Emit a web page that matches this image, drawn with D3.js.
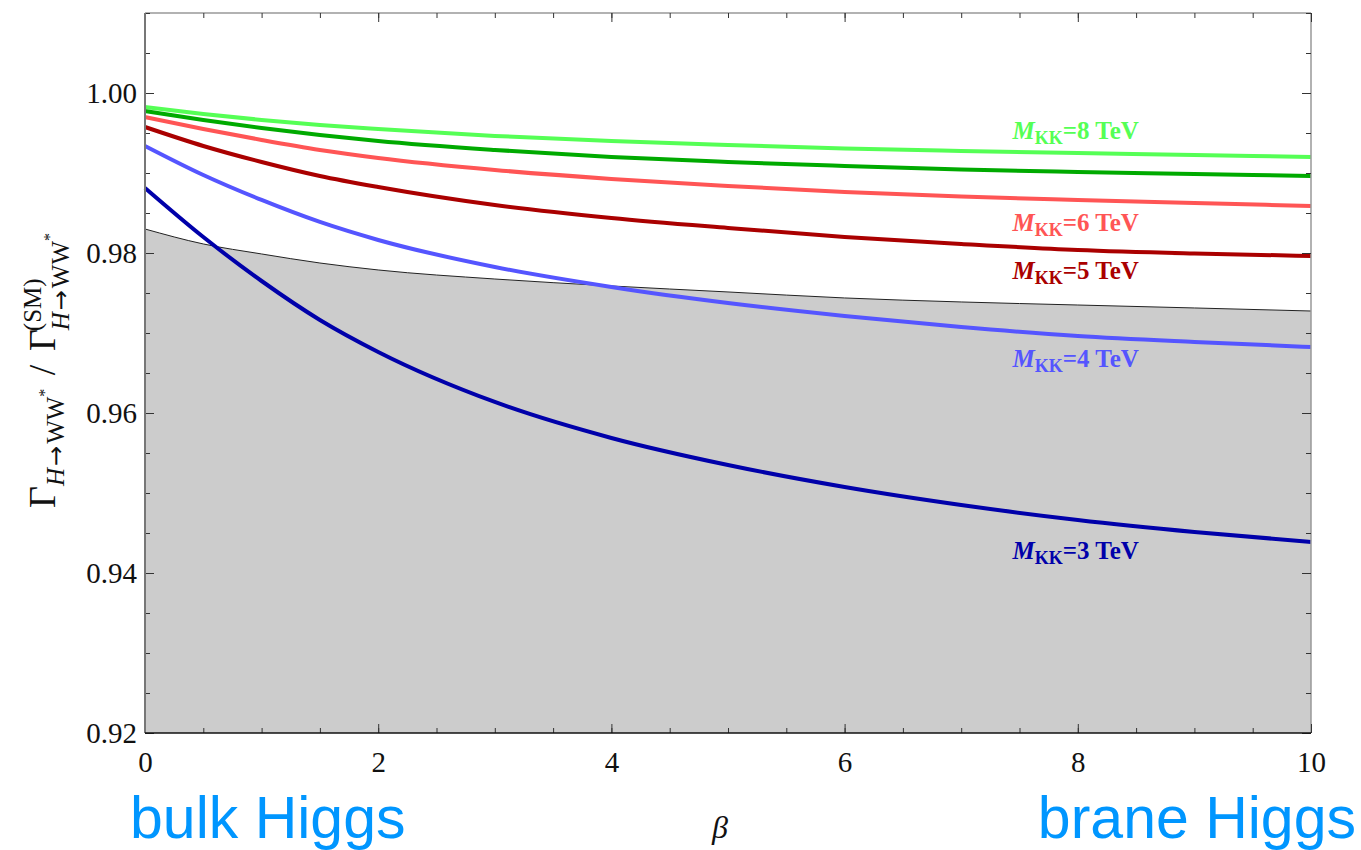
<!DOCTYPE html>
<html>
<head>
<meta charset="utf-8">
<script src="https://cdn.jsdelivr.net/npm/d3@7"></script>
<style>
  body { margin: 0; background: #fff; }
  svg { display: block; }
</style>
</head>
<body>
<div id="chart"></div>
<script>
"use strict";

const betas = [0, 0.5, 1, 1.5, 2, 3, 4, 5, 6, 7, 8, 9, 10];

const mkk8 = [0.99825, 0.99738, 0.99663, 0.996, 0.9955, 0.99463, 0.994, 0.9935, 0.99306, 0.99275, 0.9925, 0.99225, 0.992];
const mkk7 = [0.99775, 0.99663, 0.99563, 0.99475, 0.994, 0.99288, 0.992, 0.99138, 0.99088, 0.99044, 0.99013, 0.98988, 0.98963];
const mkk6 = [0.997, 0.9955, 0.99413, 0.99288, 0.99188, 0.99038, 0.98925, 0.98838, 0.98763, 0.98706, 0.98663, 0.98625, 0.98588];
const mkk5 = [0.99575, 0.99338, 0.99138, 0.98963, 0.98825, 0.986, 0.98438, 0.98313, 0.982, 0.98113, 0.98038, 0.97994, 0.97963];
const mkk4 = [0.99338, 0.98975, 0.98663, 0.98388, 0.98163, 0.97825, 0.97575, 0.97375, 0.97213, 0.97075, 0.96963, 0.96888, 0.96825];
const mkk3 = [0.98813, 0.982, 0.9765, 0.97163, 0.96763, 0.96138, 0.95688, 0.9535, 0.95075, 0.9485, 0.94663, 0.94513, 0.94388];
// upper edge of the grey excluded band
const bound = [0.983, 0.98113, 0.97988, 0.97875, 0.97788, 0.97675, 0.97588, 0.97513, 0.97438, 0.97388, 0.9735, 0.97313, 0.97275];

const series = [
  { mkk: 8, values: mkk8, color: "#55ff55" },
  { mkk: 7, values: mkk7, color: "#00aa00" },
  { mkk: 6, values: mkk6, color: "#ff5555" },
  { mkk: 5, values: mkk5, color: "#aa0000" },
  { mkk: 4, values: mkk4, color: "#5555ff" },
  { mkk: 3, values: mkk3, color: "#0000aa" }
];

// curve labels, placed in data coordinates
const labels = [
  { mkk: 8, beta: 7.44, val: 0.99425, color: "#55ff55" },
  { mkk: 6, beta: 7.44, val: 0.98275, color: "#ff5555" },
  { mkk: 5, beta: 7.44, val: 0.97675, color: "#aa0000" },
  { mkk: 4, beta: 7.44, val: 0.96575, color: "#5555ff" },
  { mkk: 3, beta: 7.44, val: 0.94175, color: "#0000aa" }
];

const xTicks = [0, 2, 4, 6, 8, 10];
const xMinor = d3.range(0, 10.01, 0.5);
const yTicks = [0.92, 0.94, 0.96, 0.98, 1.00];
const yMinor = d3.range(0.92, 1.0101, 0.005);

const width = 1361, height = 850;
const margin = { top: 13, right: 50, bottom: 117, left: 145 };

const svg = d3.select("#chart")
  .append("svg")
  .attr("width", width)
  .attr("height", height);

const x = d3.scaleLinear().domain([0, 10]).range([margin.left, width - margin.right]);
const y = d3.scaleLinear().domain([0.92, 1.01]).range([height - margin.bottom, margin.top]);

const serif = "'Liberation Serif', 'Times New Roman', serif";

// grey band
const area = d3.area()
  .x((d, i) => x(betas[i]))
  .y0(y(0.92))
  .y1(d => y(d))
  .curve(d3.curveMonotoneX);

svg.append("path")
  .datum(bound)
  .attr("d", area)
  .attr("fill", "#cccccc");

const line = d3.line()
  .x((d, i) => x(betas[i]))
  .y(d => y(d))
  .curve(d3.curveMonotoneX);

svg.append("path")
  .datum(bound)
  .attr("d", line)
  .attr("fill", "none")
  .attr("stroke", "#222")
  .attr("stroke-width", 1);

svg.selectAll(".curve")
  .data(series)
  .join("path")
  .attr("class", "curve")
  .attr("d", d => line(d.values))
  .attr("fill", "none")
  .attr("stroke", d => d.color)
  .attr("stroke-width", 4);

// frame
const x0 = x(0), x1 = x(10), yb = y(0.92), yt = y(1.01);
svg.append("line").attr("x1", x0).attr("x2", x1).attr("y1", yt).attr("y2", yt)
  .attr("stroke", "#999").attr("stroke-width", 1.5);
svg.append("line").attr("x1", x1).attr("x2", x1).attr("y1", yt).attr("y2", yb)
  .attr("stroke", "#999").attr("stroke-width", 1.5);

// axes
function styleAxis(g) {
  g.select(".domain").remove();
  g.selectAll(".tick line").attr("stroke", "#333").attr("stroke-width", 1);
  g.selectAll(".tick text")
    .attr("fill", "#111")
    .style("font-family", serif)
    .style("font-size", "29px");
}

svg.append("g")
  .attr("transform", `translate(0,${yb})`)
  .call(d3.axisBottom(x).tickValues(xMinor).tickSize(-5).tickFormat(""))
  .call(styleAxis);
svg.append("g")
  .attr("transform", `translate(0,${yb})`)
  .call(d3.axisBottom(x).tickValues(xTicks).tickSize(-9).tickPadding(18).tickFormat(d3.format("d")))
  .call(styleAxis);
svg.append("g")
  .attr("transform", `translate(0,${yt})`)
  .call(d3.axisTop(x).tickValues(xMinor).tickSize(-5).tickFormat(""))
  .call(styleAxis);
svg.append("g")
  .attr("transform", `translate(0,${yt})`)
  .call(d3.axisTop(x).tickValues(xTicks).tickSize(-9).tickFormat(""))
  .call(styleAxis);

svg.append("g")
  .attr("transform", `translate(${x0},0)`)
  .call(d3.axisLeft(y).tickValues(yMinor).tickSize(-5).tickFormat(""))
  .call(styleAxis);
svg.append("g")
  .attr("transform", `translate(${x0},0)`)
  .call(d3.axisLeft(y).tickValues(yTicks).tickSize(-9).tickPadding(8).tickFormat(d3.format(".2f")))
  .call(styleAxis);
svg.append("g")
  .attr("transform", `translate(${x1},0)`)
  .call(d3.axisRight(y).tickValues(yMinor).tickSize(-5).tickFormat(""))
  .call(styleAxis);
svg.append("g")
  .attr("transform", `translate(${x1},0)`)
  .call(d3.axisRight(y).tickValues(yTicks).tickSize(-9).tickFormat(""))
  .call(styleAxis);

svg.append("line").attr("x1", x0).attr("x2", x0).attr("y1", yt).attr("y2", yb)
  .attr("stroke", "#777").attr("stroke-width", 2);
svg.append("line").attr("x1", x0).attr("x2", x1).attr("y1", yb).attr("y2", yb)
  .attr("stroke", "#111").attr("stroke-width", 1.5);

// curve labels
const lab = svg.selectAll(".lab")
  .data(labels)
  .join("text")
  .attr("class", "lab")
  .attr("x", d => x(d.beta))
  .attr("y", d => y(d.val))
  .attr("fill", d => d.color)
  .style("font-family", serif)
  .style("font-weight", "bold")
  .style("font-size", "25px");
lab.append("tspan").style("font-style", "italic").text("M");
lab.append("tspan").attr("dy", 5).style("font-size", "18px").text("KK");
lab.append("tspan").attr("dy", -5).text(d => `=${d.mkk} TeV`);

// y axis title
const sub = "25px";
function arrow(t) {
  t.append("tspan").attr("dx", 2)
    .style("font-family", "'DejaVu Sans', sans-serif")
    .style("font-size", "24px").text("→");
}
const yt1 = svg.append("text")
  .attr("transform", "translate(55,508) rotate(-90)")
  .attr("fill", "#111")
  .style("font-family", serif)
  .style("font-size", "38px");
yt1.append("tspan").text("Γ");
yt1.append("tspan").attr("dy", 9).style("font-size", sub).style("font-style", "italic").text("H");
yt1.call(arrow);
yt1.append("tspan").attr("dx", 2).style("font-size", sub).text("WW");
yt1.append("tspan").attr("dy", -14).style("font-size", "16px").text("*");
yt1.append("tspan").attr("dx", 4).attr("dy", 5).text(" / ");
yt1.append("tspan").attr("dx", 4).text("Γ");
yt1.append("tspan").attr("dx", -2).attr("dy", -14).style("font-size", sub).text("(SM)");
yt1.append("tspan").attr("dx", -52).attr("dy", 28).style("font-size", sub).style("font-style", "italic").text("H");
yt1.call(arrow);
yt1.append("tspan").attr("dx", 2).style("font-size", sub).text("WW");
yt1.append("tspan").attr("dy", -14).style("font-size", "16px").text("*");

// x axis title
svg.append("text")
  .attr("x", 720)
  .attr("y", 838)
  .attr("text-anchor", "middle")
  .attr("fill", "#111")
  .style("font-family", serif)
  .style("font-style", "italic")
  .style("font-size", "32px")
  .text("β");

svg.append("text")
  .attr("x", 130)
  .attr("y", 838)
  .attr("fill", "#0096ff")
  .style("font-family", "'Liberation Sans', Arial, sans-serif")
  .style("font-size", "59px")
  .text("bulk Higgs");
svg.append("text")
  .attr("x", 1356)
  .attr("y", 838)
  .attr("text-anchor", "end")
  .attr("fill", "#0096ff")
  .style("font-family", "'Liberation Sans', Arial, sans-serif")
  .style("font-size", "59px")
  .text("brane Higgs");
</script>
</body>
</html>
